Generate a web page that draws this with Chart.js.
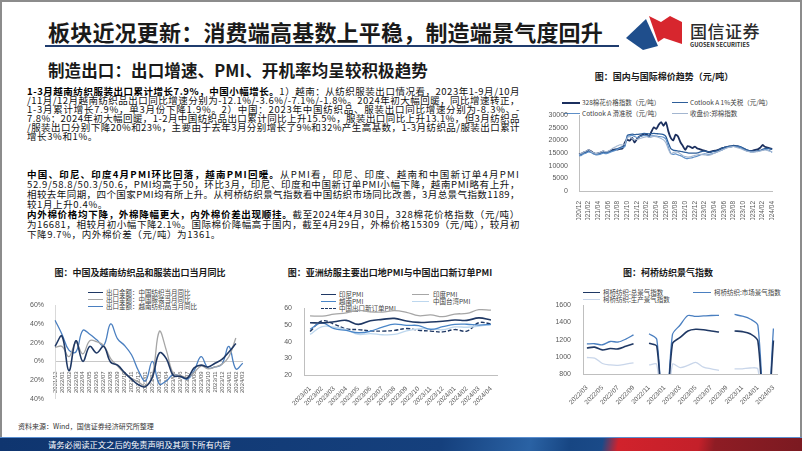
<!DOCTYPE html>
<html><head><meta charset="utf-8">
<script src="https://cdn.jsdelivr.net/npm/chart.js@4.4.1/dist/chart.umd.min.js"></script>
<style>
html,body{margin:0;padding:0}
body{width:802px;height:451px;overflow:hidden;background:#fff;position:relative;font-family:"Noto Sans CJK SC","Noto Sans",sans-serif;color:#000}
.abs{position:absolute}
#frame{position:absolute;left:0;top:0;width:798px;height:436px;border:2px solid #8c8c8c;border-bottom:none}
#title{left:48px;top:15px;font-size:22px;font-weight:700;line-height:32px;color:#1a1a1a;white-space:nowrap}
#uline{left:45px;top:45px;width:574px;height:2px;background:#1f3c6e}
#sub{left:48px;top:59px;font-size:16.5px;font-weight:700;line-height:22px;color:#1a1a1a;white-space:nowrap}
.tl{position:absolute;left:27px;font-size:9.5px;line-height:10px;height:10px;white-space:nowrap;color:#111}
.tl b{font-weight:700;color:#000}
.ct{position:absolute;font-size:9px;font-weight:700;line-height:12px;white-space:nowrap;color:#1a1a1a;transform:translateX(-50%)}
.lg{position:absolute;font-size:6.5px;line-height:8px;white-space:nowrap;color:#404040}
.sw{position:absolute;height:0}
canvas{position:absolute}
#src{left:18px;top:421px;font-size:7px;line-height:10px;color:#333;white-space:nowrap}
#foot{left:0;top:437px;width:802px;height:14px;border-top:1px solid #5b8fd0;box-sizing:border-box;
background:linear-gradient(100deg,#0f356f 0%,#15407d 55%,#2a62a4 66%,#174683 71%,#1a4a88 75%,#d1222c 77%,#c4202a 87%,#8e1c24 89%,#7b1a21 100%)}
#ftxt{left:48px;top:438px;font-size:8.3px;line-height:12px;color:#fff;white-space:nowrap}
#logo1{left:690px;top:20px;font-size:17px;font-weight:500;line-height:22px;color:#2b2b2b;white-space:nowrap;letter-spacing:0.5px}
#logo2{left:690px;top:41px;font-size:5.8px;font-weight:700;line-height:8px;color:#2b2b2b;white-space:nowrap}
</style></head><body>
<div id="frame"></div>
<div id="title" class="abs">板块近况更新：消费端高基数上平稳，制造端景气度回升</div>
<div id="uline" class="abs"></div>
<svg class="abs" style="left:620px;top:12px" width="70" height="40" viewBox="0 0 70 40">
  <polygon points="6,26 26,7 38,34 23,38" fill="#1f4e8c"/>
  <polygon points="29,4 41,10 50,4 62,10 62,32 44,26 38,30" fill="#d7262e"/>
</svg>
<div id="logo1" class="abs">国信证券</div>
<div id="logo2" class="abs">GUOSEN SECURITIES</div>
<div id="sub" class="abs">制造出口：出口增速、PMI、开机率均呈较积极趋势</div>

<div class="tl fl" style="top:86px"><b>1-3月越南纺织服装出口累计增长7.9%，中国小幅增长。</b>1）越南：从纺织服装出口情况看，2023年1-9月/10月</div>
<div class="tl fl" style="top:95px">/11月/12月越南纺织品出口同比增速分别为-12.1%/-3.6%/-7.1%/-1.8%。2024年初大幅回暖，同比增速转正，</div>
<div class="tl fl" style="top:104px">1-3月累计增长7.9%，单3月份下降1.9%。2）中国：2023年中国纺织品、服装出口同比增速分别为-8.3%、-</div>
<div class="tl fl" style="top:113px">7.8%；2024年初大幅回暖，1-2月中国纺织品出口累计同比上升15.5%，服装出口同比上升13.1%，但3月纺织品</div>
<div class="tl fl" style="top:122px">/服装出口分别下降20%和23%，主要由于去年3月分别增长了9%和32%产生高基数，1-3月纺织品/服装出口累计</div>
<div class="tl sl" style="top:131px">增长3%和1%。</div>

<div class="tl fl" style="top:169px"><b>中国、印尼、印度4月PMI环比回落，越南PMI回暖。</b>从PMI看，印尼、印度、越南和中国新订单4月PMI</div>
<div class="tl fl" style="top:179px">52.9/58.8/50.3/50.6，PMI均高于50，环比3月，印尼、印度和中国新订单PMI小幅下降，越南PMI略有上升，</div>
<div class="tl fl" style="top:189px">相较去年同期，四个国家PMI均有所上升。从柯桥纺织景气指数看中国纺织市场同比改善，3月总景气指数1189，</div>
<div class="tl sl" style="top:199px">较1月上升0.4%。</div>
<div class="tl fl" style="top:209px"><b>内外棉价格均下降，外棉降幅更大，内外棉价差出现顺挂。</b>截至2024年4月30日，328棉花价格指数（元/吨）</div>
<div class="tl fl" style="top:219px">为16681，相较月初小幅下降2.1%。国际棉价降幅高于国内，截至4月29日，外棉价格15309（元/吨），较月初</div>
<div class="tl sl" style="top:229px">下降9.7%，内外棉价差（元/吨）为1361。</div>

<!-- cotton chart -->
<div class="ct" style="left:664px;top:71px">图：国内与国际棉价趋势（元/吨）</div>
<div class="sw" style="left:562px;top:102px;width:18px;border-top:2px solid #1b2f5e"></div>
<div class="lg" style="left:582px;top:98px">328棉花价格指数（元/吨）</div>
<div class="sw" style="left:672px;top:102px;width:16px;border-top:1.5px solid #2e5f9a"></div>
<div class="lg" style="left:690px;top:98px">Cotlook A 1%关税（元/吨）</div>
<div class="sw" style="left:564px;top:113px;width:16px;border-top:1.2px solid #5d8fc8"></div>
<div class="lg" style="left:582px;top:109px">Cotlook A 滑准税（元/吨）</div>
<div class="sw" style="left:672px;top:113px;width:16px;border-top:1.2px solid #a3b6d0"></div>
<div class="lg" style="left:690px;top:109px">收盘价:郑棉指数</div>
<canvas id="c4" width="237" height="112" style="left:545px;top:108px"></canvas>

<!-- chart 1 -->
<div class="ct" style="left:140px;top:267px">图：中国及越南纺织品和服装出口当月同比</div>
<div class="sw" style="left:88px;top:292px;width:15px;border-top:1.5px solid #1f3864"></div>
<div class="lg" style="left:106px;top:288px">出口金额：中国纺织当月同比</div>
<div class="sw" style="left:88px;top:299px;width:15px;border-top:1.2px solid #a6a6a6"></div>
<div class="lg" style="left:106px;top:295px">出口金额：中国服装当月同比</div>
<div class="sw" style="left:88px;top:306px;width:15px;border-top:1.2px solid #4a7fc0"></div>
<div class="lg" style="left:106px;top:302px">出口金额：越南纺织品当月同比</div>
<canvas id="c1" width="222" height="108" style="left:30px;top:298px"></canvas>

<!-- chart 2 -->
<div class="ct" style="left:390px;top:267px">图：亚洲纺服主要出口地PMI与中国出口新订单PMI</div>
<div class="sw" style="left:321px;top:294px;width:15px;border-top:1.6px solid #1f3864"></div>
<div class="lg" style="left:339px;top:290px">印尼PMI</div>
<div class="sw" style="left:412px;top:294px;width:17px;border-top:1.2px solid #a6a6a6"></div>
<div class="lg" style="left:433px;top:290px">印度PMI</div>
<div class="sw" style="left:321px;top:301px;width:15px;border-top:1.2px solid #4a86c8"></div>
<div class="lg" style="left:339px;top:297px">越南PMI</div>
<div class="sw" style="left:412px;top:301px;width:17px;border-top:1.2px solid #bdd7ee"></div>
<div class="lg" style="left:433px;top:297px">中国台湾PMI</div>
<div class="sw" style="left:321px;top:308px;width:15px;border-top:1.5px dashed #1f3864"></div>
<div class="lg" style="left:339px;top:304px">中国出口新订单PMI</div>
<canvas id="c2" width="225" height="112" style="left:275px;top:300px"></canvas>

<!-- chart 3 -->
<div class="ct" style="left:668px;top:267px">图：柯桥纺织景气指数</div>
<div class="sw" style="left:583px;top:292px;width:17px;border-top:1.6px solid #1f3864"></div>
<div class="lg" style="left:603px;top:288px">柯桥纺织:总景气指数</div>
<div class="sw" style="left:693px;top:292px;width:18px;border-top:1.3px solid #4a7fc0"></div>
<div class="lg" style="left:714px;top:288px">柯桥纺织:市场景气指数</div>
<div class="sw" style="left:583px;top:299px;width:17px;border-top:1.3px solid #c9d6ea"></div>
<div class="lg" style="left:603px;top:295px">柯桥纺织:生产景气指数</div>
<canvas id="c3" width="226" height="116" style="left:555px;top:297px"></canvas>

<div id="src" class="abs">资料来源：Wind，国信证券经济研究所整理</div>
<div id="foot" class="abs"></div>
<div id="ftxt" class="abs">请务必阅读正文之后的免责声明及其项下所有内容</div>

<script>
// ---------- data ----------
// Chart 1: monthly YoY export growth (%)
const expMonths = ["2021/12","2022/01","2022/02","2022/03","2022/04","2022/05","2022/06","2022/07","2022/08","2022/09","2022/10","2022/11","2022/12","2023/01","2023/02","2023/03","2023/04","2023/05","2023/06","2023/07","2023/08","2023/09","2023/10","2023/11","2023/12","2024/01","2024/02","2024/03"];
const cnTextile = [16,27,-10,22,0,16,9,16,-1,-4,-12,-19,-25,-27,-17,9,3,-15,-16,-18,-7,-4,-6,-2,2,10,19,null];
const cnApparel = [15,16,5,20,8,22,21,17,3,-5,-13,-18,-22,-26,-15,32,12,-13,-15,-17,-12,-5,-8,-6,-3,5,25,null];
const vnTextile = [44,29,12,10,33,29,23,17,40,24,17,7,-10,-21,0,-24,-21,-14,-16,-19,-10,5,-7,-6,-3,16,-8,-2];

// Chart 2: PMI
const pmiMonths = ["2023/01","2023/02","2023/03","2023/04","2023/05","2023/06","2023/07","2023/08","2023/09","2023/10","2023/11","2023/12","2024/01","2024/02","2024/03","2024/04"];
const pmiIndonesia = [51.3,51.2,51.9,52.7,50.3,52.5,53.3,53.9,52.3,51.5,51.7,52.2,52.9,52.7,54.2,52.9];
const pmiIndia = [55.4,55.3,56.4,57.2,58.7,57.8,57.7,58.6,57.5,55.5,56.0,54.9,56.5,56.9,59.1,58.8];
const pmiVietnam = [47.4,51.2,47.7,46.7,45.3,46.2,48.7,50.5,49.7,49.6,47.3,48.9,50.3,50.4,49.9,50.3];
const pmiTaiwan = [44.3,49.0,48.6,47.1,44.3,44.8,44.1,44.3,46.4,47.6,47.6,47.1,48.8,48.6,49.3,50.2];
const pmiChinaNewExport = [46.1,52.4,50.4,47.6,47.2,46.4,46.3,46.7,47.8,46.8,46.3,45.8,47.2,46.3,51.3,50.6];

// Chart 3: Keqiao textile index
const kqMonths = ["2022/03","2022/04","2022/05","2022/06","2022/07","2022/08","2022/09","2022/10","2022/11","2022/12","2023/01","2023/02","2023/03","2023/04","2023/05","2023/06","2023/07","2023/08","2023/09","2023/10","2023/11","2023/12","2024/01","2024/02","2024/03"];
const kqTotal =      [1103,1112,1080,1097,1092,1122,1152,null,1158,1120,0,1150,1225,1300,1320,1315,1300,1288,null,1300,1293,1268,1184,0,1189];
const kqMarket =     [1150,1152,1140,1178,1172,1205,1255,null,1268,1200,0,1255,1370,1480,1470,1475,1480,1482,null,1492,1472,1440,1365,0,1330];
const kqProduction = [992,985,922,905,900,915,930,null,905,910,0,912,875,900,935,880,860,843,null,860,860,870,858,0,null];

// Chart 4: cotton prices (yuan/ton), two readings per month
const cottonMonths = ["2020/12","2021/01","2021/02","2021/03","2021/04","2021/05","2021/06","2021/07","2021/08","2021/09","2021/10","2021/11","2021/12","2022/01","2022/02","2022/03","2022/04","2022/05","2022/06","2022/07","2022/08","2022/09","2022/10","2022/11","2022/12","2023/01","2023/02","2023/03","2023/04","2023/05","2023/06","2023/07","2023/08","2023/09","2023/10","2023/11","2023/12","2024/01","2024/02","2024/03","2024/04"];
const cotton328 = [14600,14800,15300,15600,16200,15700,15000,14700,14900,15200,15700,15300,15500,15900,16300,16500,16400,16700,16800,19200,20300,19900,21000,19200,20600,21600,22000,22600,22400,21500,23500,25200,24600,26200,27300,25800,27200,23600,21000,20000,22300,21600,19300,17800,16300,17800,17500,17000,17600,16800,16600,16200,16000,15600,15400,15700,15900,16100,16400,16900,17100,17400,17600,17700,17900,17800,17600,17200,16800,16300,16000,15900,16000,16300,16500,17100,18200,17500,17200,16900,16600];
const cottonCotlook1 = [14300,14500,15000,15300,15800,15500,15000,14800,14800,15000,15300,15200,15400,15700,16000,16300,16800,17200,17600,18000,22000,22300,22500,22300,22400,22500,22600,22800,22700,22600,22700,22800,22700,22600,22500,22300,21500,19000,16800,16200,16000,15800,15700,15500,15300,15100,15000,15000,15000,15100,15400,15700,15800,15600,15400,15500,15700,15900,16300,16800,17200,17500,17700,17800,17900,17800,17800,17500,17000,16500,16100,15900,15800,15800,15900,16100,16500,16800,16900,16700,16500];
const cottonSliding = [13900,14100,14700,15000,15500,15200,14600,14300,14400,14600,15000,14800,15000,15300,15700,16000,16500,16900,17200,17500,21500,21800,22000,21600,21200,21500,21800,22000,21900,21700,21800,21800,21700,21600,21500,21300,20500,17500,15000,14500,14700,14300,14000,13500,13000,12800,13000,13200,13500,13800,14200,14500,14700,14600,14500,14700,15000,15300,15700,16100,16600,17000,17300,17500,17600,17500,17400,17100,16500,16000,15700,15500,15500,15600,15700,15900,16200,16400,16300,15900,15300];
const cottonZhengzhou = [14500,14900,15400,15800,16300,15600,15100,14800,15000,15400,15800,15600,15700,16200,16900,17400,17900,18300,18200,18600,21000,21500,20800,20200,20400,20700,21000,21300,21500,21200,21300,21600,21500,21200,20800,20200,19000,16500,14700,15200,15500,15300,14700,14000,13600,13400,13500,13800,14100,14300,14500,14400,14300,14100,14200,14500,14900,15300,15700,16100,16500,16900,17200,17400,17600,17300,17000,16700,16300,15900,15600,15400,15400,15500,15600,15800,16000,16200,16000,15700,15500];

// ---------- text fitting ----------
function fitTo(el, target){
  el.style.letterSpacing = '0px';
  const w = el.getBoundingClientRect().width;
  const n = el.textContent.length;
  const ls = (target - w) / n;
  el.style.letterSpacing = ls + 'px';
  return ls;
}
fitTo(document.getElementById('title'), 555);
fitTo(document.getElementById('sub'), 380);
(function(){
  let sum = 0, cnt = 0;
  document.querySelectorAll('.tl.fl').forEach(el => { sum += fitTo(el, 493); cnt++; });
  const avg = sum / cnt;
  document.querySelectorAll('.tl.sl').forEach(el => el.style.letterSpacing = avg + 'px');
})();

// ---------- charts ----------
Chart.defaults.font.family = '"Liberation Sans", Arial, sans-serif';
Chart.defaults.color = '#595959';
Chart.defaults.animation = false;

const noPlug = {legend:{display:false}, tooltip:{enabled:false}, title:{display:false}};
const fixW = w => (s => { s.width = w; });
const fixH = h => (s => { s.height = h; });
const plain = v => String(v);

// Chart 1
new Chart(document.getElementById('c1'), {
  type:'line',
  data:{labels:expMonths, datasets:[
    {label:'出口金额：中国纺织当月同比', data:cnTextile, borderColor:'#1f3864', borderWidth:1.6},
    {label:'出口金额：中国服装当月同比', data:cnApparel, borderColor:'#a6a6a6', borderWidth:1.3},
    {label:'出口金额：越南纺织品当月同比', data:vnTextile, borderColor:'#4a7fc0', borderWidth:1.3}
  ]},
  options:{responsive:false, devicePixelRatio:1, animation:false,
    layout:{padding:{top:4,right:5,bottom:4,left:0}},
    elements:{point:{radius:0}, line:{tension:0.4}},
    plugins:noPlug,
    scales:{
      x:{position:{y:0}, offset:false, grid:{display:false}, border:{display:true,color:'#c8c8c8'},
         ticks:{autoSkip:false, minRotation:90, maxRotation:90, font:{size:6}, padding:2, color:'#595959'},
         afterFit:fixH(0)},
      y:{min:-40, max:60, grid:{display:false}, border:{display:true,color:'#d9d9d9'},
         ticks:{stepSize:20, font:{size:7}, padding:3, callback:v => v + '%'}, afterFit:fixW(25)}
    }}
});

// Chart 2
new Chart(document.getElementById('c2'), {
  type:'line',
  data:{labels:pmiMonths, datasets:[
    {label:'印尼PMI', data:pmiIndonesia, borderColor:'#1f3864', borderWidth:1.6},
    {label:'印度PMI', data:pmiIndia, borderColor:'#a6a6a6', borderWidth:1.3},
    {label:'越南PMI', data:pmiVietnam, borderColor:'#4a86c8', borderWidth:1.3},
    {label:'中国台湾PMI', data:pmiTaiwan, borderColor:'#bdd7ee', borderWidth:1.3},
    {label:'中国出口新订单PMI', data:pmiChinaNewExport, borderColor:'#1f3864', borderWidth:1.4, borderDash:[4,2]}
  ]},
  options:{responsive:false, devicePixelRatio:1, animation:false,
    layout:{padding:{top:6,right:3,bottom:0,left:0}},
    elements:{point:{radius:0}, line:{tension:0.4}},
    plugins:noPlug,
    scales:{
      x:{offset:true, grid:{display:false}, border:{display:true,color:'#bfbfbf'},
         ticks:{autoSkip:false, minRotation:45, maxRotation:45, font:{size:6.5}, padding:2}, afterFit:fixH(37)},
      y:{min:20, max:60, grid:{display:false}, border:{display:true,color:'#bfbfbf'},
         ticks:{stepSize:10, font:{size:7}, padding:4, callback:plain}, afterFit:fixW(29)}
    }}
});

// Chart 3
new Chart(document.getElementById('c3'), {
  type:'line',
  data:{labels:kqMonths, datasets:[
    {label:'柯桥纺织:总景气指数', data:kqTotal, borderColor:'#1f3864', borderWidth:1.6},
    {label:'柯桥纺织:市场景气指数', data:kqMarket, borderColor:'#4a7fc0', borderWidth:1.3},
    {label:'柯桥纺织:生产景气指数', data:kqProduction, borderColor:'#c9d6ea', borderWidth:1.3}
  ]},
  options:{responsive:false, devicePixelRatio:1, animation:false, spanGaps:false,
    layout:{padding:{top:6,right:3,bottom:0,left:0}},
    elements:{point:{radius:0}, line:{tension:0.3}},
    plugins:noPlug,
    scales:{
      x:{offset:true, grid:{display:false}, border:{display:true,color:'#bfbfbf'},
         ticks:{autoSkip:false, minRotation:45, maxRotation:45, font:{size:6.5}, padding:2,
           callback:function(v,i){ return i % 2 === 0 ? this.getLabelForValue(v) : ''; }},
         afterFit:fixH(39)},
      y:{min:800, max:1600, grid:{display:false}, border:{display:true,color:'#bfbfbf'},
         ticks:{stepSize:200, font:{size:7}, padding:4, callback:plain}, afterFit:fixW(28)}
    }}
});

// Chart 4
const cottonCats = cottonMonths.flatMap(m => [m, m + '下']).slice(0, cotton328.length);
new Chart(document.getElementById('c4'), {
  type:'line',
  data:{labels:cottonCats, datasets:[
    {label:'收盘价:郑棉指数', data:cottonZhengzhou, borderColor:'#a3b6d0', borderWidth:1.1},
    {label:'Cotlook A 滑准税（元/吨）', data:cottonSliding, borderColor:'#5d8fc8', borderWidth:1.1},
    {label:'Cotlook A 1%关税（元/吨）', data:cottonCotlook1, borderColor:'#2e5f9a', borderWidth:1.3},
    {label:'328棉花价格指数（元/吨）', data:cotton328, borderColor:'#1b2f5e', borderWidth:1.8}
  ]},
  options:{responsive:false, devicePixelRatio:1, animation:false,
    layout:{padding:{top:4,right:8,bottom:0,left:0}},
    elements:{point:{radius:0}, line:{tension:0.2}},
    plugins:noPlug,
    scales:{
      x:{offset:false, grid:{display:false}, border:{display:true,color:'#bfbfbf'},
         ticks:{autoSkip:false, minRotation:90, maxRotation:90, font:{size:6.5}, padding:2,
           callback:function(v,i){ return i % 4 === 0 ? this.getLabelForValue(v).slice(0,7) : ''; }},
         afterFit:fixH(29)},
      y:{min:0, max:30000, grid:{display:false}, border:{display:true,color:'#bfbfbf'},
         ticks:{stepSize:5000, font:{size:7}, padding:3, callback:plain}, afterFit:fixW(34)}
    }}
});
</script>
</body></html>
